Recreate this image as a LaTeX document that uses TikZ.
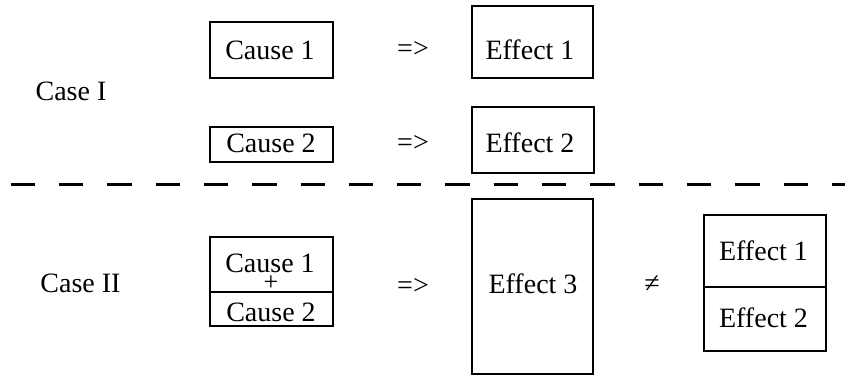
\documentclass[tikz,border=0pt]{standalone}
\usepackage{fontspec}
\setmainfont{Liberation Serif}
\begin{document}
\begin{tikzpicture}[x=1pt,y=-1pt,
  box/.style={draw,line width=1.8pt,inner sep=0pt,minimum width=#1},
  box/.default=123pt,
  txt/.style={inner sep=0pt,anchor=base,font=\fontsize{28}{32}\selectfont},
  sep/.style={line width=3pt,dash pattern=on 24.3pt off 24pt}]
\useasboundingbox (0,0) rectangle (845,376);

% Case I
\node[txt] (case1) at (71,100) {Case I};
\node[box,minimum height=56pt] (c1) at (271.5,50) {};
\node[box,minimum height=35pt] (c2) at (271.5,144.5) {};
\node[box=121pt,minimum height=72pt] (e1) at (532.5,42) {};
\node[box=122pt,minimum height=66pt] (e2) at (533,140) {};
\node[txt] (c1t) at (270,59) {Cause 1};
\node[txt] (c2t) at (271,152) {Cause 2};
\node[txt] (e1t) at (530,59) {Effect 1};
\node[txt] (e2t) at (530,152) {Effect 2};
\node[txt] (imp1) at (413,57) {=>};
\node[txt] (imp2) at (413,151) {=>};

% separator
\coordinate (sl) at (10.7,184.3);
\coordinate (sr) at (845,184.3);
\draw[sep] (sl) -- (sr);

% Case II
\node[txt] (case2) at (80.5,292) {Case II};
\node[box,minimum height=55pt] (cc1) at (271.5,264.5) {};
\node[box,minimum height=34pt] (cc2) at (271.5,309) {};
\node[txt] (cc1t) at (270,272) {Cause 1};
\node[txt,font=\fontsize{26}{28}\selectfont] (plus) at (271,290) {+};
\node[txt] (cc2t) at (271,321) {Cause 2};
\node[txt] (imp3) at (413,294) {=>};
\node[box=121pt,minimum height=175pt] (e3) at (532.5,286.5) {};
\node[txt] (e3t) at (533,293) {Effect 3};
\node[txt] (neq) at (652,292) {≠};
\node[box=122pt,minimum height=72pt] (ea) at (765,251) {};
\node[box=122pt,minimum height=64pt] (eb) at (765,319) {};
\node[txt] (eat) at (763.5,260) {Effect 1};
\node[txt] (ebt) at (763.5,327) {Effect 2};
\end{tikzpicture}
\end{document}
